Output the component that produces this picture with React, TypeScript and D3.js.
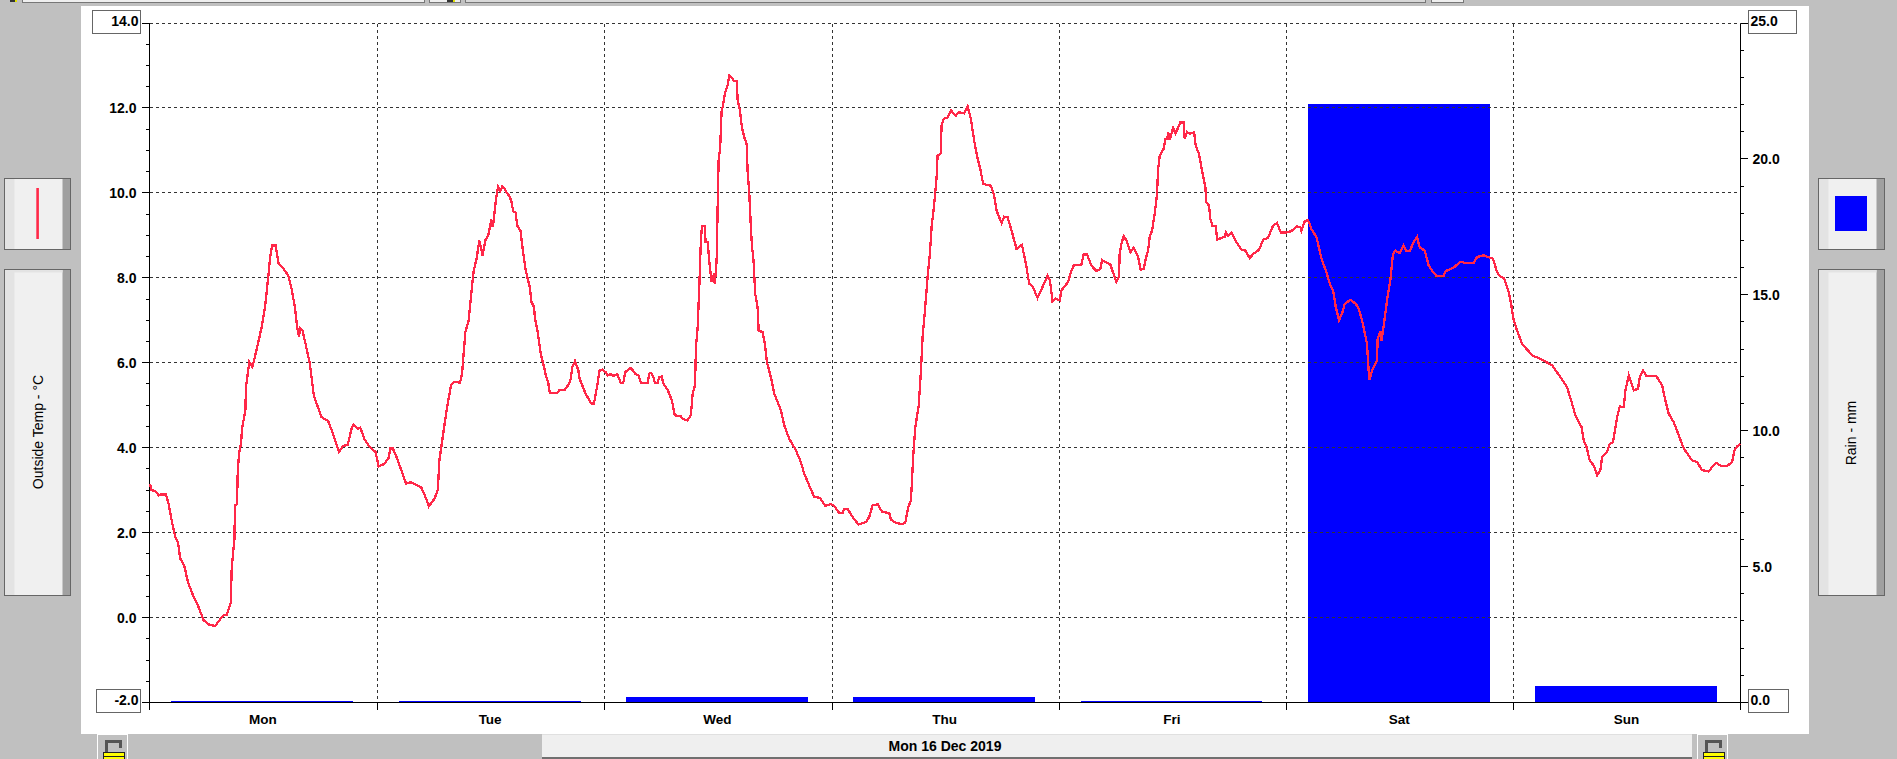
import React from "react";
import * as d3 from "d3";

const W = 1897, H = 759;

const days = ["Mon", "Tue", "Wed", "Thu", "Fri", "Sat", "Sun"];
const rainByDay = [0.05, 0.05, 0.2, 0.2, 0.05, 22.0, 0.6];
const dateLabel = "Mon 16 Dec 2019";
const leftTitle = "Outside Temp - °C";
const rightTitle = "Rain - mm";
const tempTicks = [14, 12, 10, 8, 6, 4, 2, 0, -2];
const rainTicks = [25, 20, 15, 10, 5, 0];

// [hours since Monday 00:00, outside temperature °C]
const monTemps = [[0,3.15],[.14,3],[.56,2.98],[.91,2.88],[1.16,2.9],[1.68,2.9],[1.96,2.68],[2.32,2.25],[2.67,1.9],[2.95,1.78],[3.19,1.39],[3.61,1.23],[4,.84],[4.6,.49],[5.12,.25],[5.65,-.06],[6.18,-.16],[6.88,-.2],[7.68,.04],[8.1,.07],[8.53,.35],[8.63,1.19],[8.91,1.82],[8.98,2.64],[9.19,2.68],[9.26,3.39],[9.4,3.86],[9.61,4.09],[9.72,4.45],[10.07,4.88],[10.14,5.43],[10.49,6.02],[10.81,5.9],[11.09,6.15],[11.44,6.49],[11.79,6.84],[12.14,7.31],[12.49,8.02],[12.67,8.45],[12.88,8.76],[13.26,8.76],[13.58,8.33],[14,8.25],[14.6,8.05],[14.95,7.74],[15.3,7.31],[15.54,6.84],[15.75,6.6],[15.82,6.82],[16.1,6.76],[16.42,6.45],[16.88,5.98],[17.3,5.23],[18.1,4.72],[18.81,4.63],[19.26,4.37],[19.96,3.9],[20.39,4.04],[20.88,4.07],[21.33,4.49],[21.51,4.55],[21.96,4.45],[22.21,4.47],[22.67,4.19],[23.19,4.02],[23.82,3.9]];
const tueTemps = [[24.14,3.56],[24.77,3.62],[25.19,3.76],[25.37,3.98],[25.65,3.98],[26,3.8],[27.05,3.15],[27.47,3.19],[28.63,3.07],[29.16,2.8],[29.44,2.62],[30.04,2.8],[30.39,3],[30.56,3.7],[30.91,4.25],[31.16,4.64],[31.44,5.04],[31.79,5.47],[32.14,5.55],[32.74,5.53],[32.95,5.74],[33.3,6.72],[33.65,7],[33.89,7.55],[34.18,8.17],[34.49,8.45],[34.77,8.88],[35.12,8.53],[35.4,8.88],[35.72,9],[36.03,9.37],[36.2,9.19],[36.38,9.54],[36.56,9.9],[36.77,10.15],[37,10.05],[37.19,10.15],[37.45,10.1],[37.66,10.01],[37.89,9.94],[38.14,9.82],[38.35,9.57],[38.6,9.54],[38.78,9.23],[39.13,9.1],[39.33,8.72],[39.68,8.17],[40.1,7.78],[40.28,7.43],[40.56,7.31],[40.63,7.08],[40.91,6.76],[41.26,6.21],[41.61,5.9],[41.79,5.7],[42.04,5.55],[42.21,5.29],[42.49,5.29],[43.02,5.29],[43.19,5.35],[43.82,5.37],[44.25,5.5],[44.42,5.62],[44.6,5.9],[44.88,6.04],[45.23,5.82],[45.37,5.62],[46,5.27],[46.6,5.04],[46.88,5.04],[47.23,5.47],[47.47,5.82],[47.75,5.84]];
const wedTemps = [[48.1,5.78],[48.35,5.7],[48.63,5.73],[48.98,5.69],[49.34,5.73],[49.72,5.52],[49.97,5.52],[50.18,5.78],[50.78,5.88],[51.24,5.74],[51.6,5.7],[51.84,5.52],[52.54,5.52],[52.72,5.74],[52.9,5.76],[53.17,5.66],[53.31,5.52],[53.6,5.52],[53.77,5.66],[54.03,5.68],[54.2,5.51],[54.66,5.36],[55.12,5.11],[55.36,4.8],[55.61,4.74],[56.07,4.74],[56.24,4.68],[56.77,4.64],[57.12,4.78],[57.3,5.27],[57.55,5.47],[57.65,6.37],[57.83,6.84],[58,7.78],[58.17,8.88],[58.28,9.22],[58.56,9.22],[58.67,8.84],[58.88,8.84],[59.12,8.25],[59.3,7.9],[59.47,8.02],[59.65,7.86],[59.83,8.41],[59.97,9.98],[60.04,10.76],[60.21,11.07],[60.35,11.9],[60.53,12.09],[60.74,12.37],[60.99,12.53],[61.16,12.76],[61.41,12.72],[61.69,12.63],[61.97,12.63],[62.04,12.21],[62.29,11.94],[62.5,11.55],[62.75,11.31],[63,11.15],[63.1,10.53],[63.28,9.98],[63.45,9.19],[63.56,8.76],[63.73,8.41],[63.91,7.62],[64.16,7.31],[64.27,6.76],[64.68,6.72],[64.93,6.45],[65.14,6.02],[65.56,5.66],[65.92,5.27],[66.62,4.88],[66.97,4.53],[67.5,4.21],[68.2,3.94],[68.73,3.66],[69.08,3.39],[69.61,3.11],[70.14,2.84],[70.74,2.82],[71.3,2.63],[71.9,2.67]];
const thuTemps = [[72.25,2.63],[72.78,2.46],[73.13,2.46],[73.3,2.56],[73.66,2.56],[74.19,2.37],[74.82,2.19],[75.6,2.25],[75.95,2.37],[76.3,2.64],[76.83,2.67],[77.3,2.49],[78.06,2.46],[78.24,2.31],[78.76,2.23],[79.4,2.2],[79.75,2.23],[80.07,2.6],[80.35,2.76],[80.6,3.82],[80.81,4.49],[81.16,4.96],[81.41,5.82],[81.58,6.6],[81.86,7.31],[82.11,8.02],[82.35,8.56],[82.53,9.19],[82.81,9.74],[83.06,10.37],[83.16,10.88],[83.51,10.93],[83.58,11.58],[83.8,11.74],[84.22,11.78],[84.57,11.94],[85.1,11.82],[85.38,11.9],[85.98,11.87],[86.33,12.04],[86.68,11.74],[87.03,11.23],[87.32,10.88],[87.67,10.56],[87.98,10.21],[88.79,10.17],[89.14,9.93],[89.39,9.58],[89.92,9.29],[90.2,9.44],[90.55,9.43],[90.98,9.11],[91.5,8.68],[92.07,8.78],[92.49,8.33],[92.84,7.86],[93.19,7.8],[93.72,7.53],[94.32,7.82],[94.78,8.05],[95.03,7.94],[95.3,7.45],[95.66,7.51]];
const friTemps = [[96.06,7.47],[96.23,7.7],[96.94,7.9],[97.29,8.17],[97.54,8.29],[98.35,8.31],[98.59,8.55],[98.94,8.55],[99.4,8.29],[99.93,8.16],[100.35,8.21],[100.53,8.42],[100.99,8.36],[101.41,8.31],[102.04,7.9],[102.32,8.02],[102.39,8.56],[102.57,8.8],[102.82,8.98],[103.1,8.88],[103.52,8.6],[103.87,8.71],[104.33,8.49],[104.61,8.19],[104.93,8.21],[105.14,8.45],[105.39,8.64],[105.56,8.96],[105.81,9.11],[106.09,9.51],[106.34,9.98],[106.44,10.53],[106.62,10.88],[107.04,11.04],[107.22,11.27],[107.43,11.27],[107.5,11.43],[107.68,11.25],[108.03,11.53],[108.27,11.4],[108.66,11.58],[108.8,11.66],[109.15,11.66],[109.26,11.27],[109.51,11.43],[109.79,11.39],[110.25,11.43],[110.42,11.11],[110.77,10.92],[111.02,10.6],[111.44,10.13],[111.55,9.78],[111.83,9.7],[111.97,9.39],[112.18,9.23],[112.54,9.22],[112.68,8.9],[113.49,8.97],[113.59,9.07],[113.84,8.98],[114.19,9.07],[114.72,8.84],[115.25,8.66],[115.67,8.64],[116.13,8.46],[116.48,8.56],[117.11,8.66],[117.54,8.9],[118.06,8.94],[118.59,9.23],[119.01,9.29],[119.4,9.07]];
const satTemps = [[120,9.07],[120.53,9.1],[121.06,9.21],[121.48,9.19],[121.58,9.11],[121.94,9.33],[122.29,9.36],[122.64,9.15],[123.17,8.96],[123.7,8.45],[124.23,8.13],[124.58,7.86],[124.93,7.7],[125.21,7.31],[125.56,7],[125.92,7.19],[126.16,7.39],[126.76,7.48],[127.32,7.39],[127.63,7.27],[127.98,7],[128.33,6.64],[128.5,6.45],[128.68,5.82],[128.79,5.6],[129.04,5.82],[129.56,6.05],[129.63,6.56],[129.92,6.75],[130.02,6.51],[130.2,6.76],[130.44,7.15],[130.69,7.58],[130.97,7.94],[131.25,8.56],[131.5,8.64],[131.96,8.58],[132.38,8.76],[132.66,8.64],[133.01,8.63],[133.44,8.84],[133.79,8.96],[134.07,8.72],[134.6,8.64],[135.02,8.29],[135.37,8.17],[135.83,8.05],[136.6,8.05],[136.82,8.16],[137.66,8.24],[138.37,8.38],[138.89,8.35],[139.77,8.35],[140.13,8.49],[140.83,8.53],[141.54,8.47],[141.82,8.45],[142.24,8.13],[142.59,8.03],[143.01,7.98],[143.47,7.66],[143.72,7.39]];
const sunTemps = [[144,7],[144.35,6.76],[144.88,6.45],[145.41,6.31],[146.01,6.17],[147,6.07],[148.05,5.94],[148.93,5.66],[149.63,5.43],[150.16,5.04],[150.51,4.76],[151.15,4.49],[151.39,4.17],[151.68,4.02],[152.03,3.7],[152.45,3.58],[152.8,3.35],[153.15,3.47],[153.33,3.78],[153.86,3.9],[154.14,4.09],[154.49,4.13],[154.92,4.72],[155.2,4.97],[155.62,4.96],[155.8,5.35],[156.15,5.7],[156.68,5.35],[157.13,5.39],[157.31,5.66],[157.66,5.82],[158.01,5.69],[159.07,5.68],[159.67,5.47],[160.02,5.11],[160.37,4.8],[160.9,4.6],[161.43,4.29],[161.96,3.98],[162.84,3.7],[163.37,3.66],[163.89,3.47],[164.6,3.44],[165.06,3.58],[165.41,3.64],[165.9,3.57],[166.54,3.57],[167.06,3.66],[167.31,3.94],[167.59,4.03],[167.94,4.09]];

const plotL = 149.5, plotR = 1740.5, plotT = 23.02, plotB = 702.5;
const GREY = "#c0c0c0", RED = "#ff2848", BLUE = "#0000ff", GRID = "#333333";
const BOLD = { fontFamily: "'Liberation Sans', Arial, sans-serif", fontWeight: 700, fill: "#000" } as const;
const REGULAR = { fontFamily: "'Liberation Sans', Arial, sans-serif", fill: "#000" } as const;

const x = d3.scaleLinear().domain([0, 168]).range([150, 1741]);
const yT = d3.scaleLinear().domain([-2, 14]).range([plotB, plotT]);
const yR = d3.scaleLinear().domain([0, 25]).range([plotB, plotT]);
const band = d3.scaleBand<string>().domain(days).range([148.7, 1739.7]).paddingInner(0.2).paddingOuter(0.1);
const temps = [...monTemps, ...tueTemps, ...wedTemps, ...thuTemps, ...friTemps, ...satTemps, ...sunTemps];
const linePath = d3.line<number[]>().x(d => x(d[0])).y(d => yT(d[1]))(temps) as string;
const snap = (v: number) => Math.floor(v) + 0.5;

function SideButton({ x0, y0, h, left, right, top }: { x0: number; y0: number; h: number; left: number; right: number; top?: boolean }) {
  const w = 66;
  return (
    <g>
      <rect x={x0 + 0.5} y={y0 + 0.5} width={w} height={h} fill="#f0f0f0" />
      <rect x={x0 + 0.5} y={y0 + 0.5} width={left} height={h} fill="#e3e3e3" />
      <rect x={x0 + 0.5 + w - right} y={y0 + 0.5} width={right} height={h} fill="#a0a0a0" />
      {top && <rect x={x0 + 0.5} y={y0 + 0.5} width={w - right} height={3} fill="#e3e3e3" />}
      <rect x={x0 + 0.5} y={y0 + 0.5} width={w} height={h} fill="none" stroke="#666" />
    </g>
  );
}

function Lock({ x0 }: { x0: number }) {
  return (
    <g>
      <rect x={x0 + 0.5} y={734.5} width={30} height={30} fill={GREY} stroke="#fff" />
      <path d={`M${x0 + 9.5} 752V741.5H${x0 + 23.5}V748`} fill="none" stroke="#555" strokeWidth={3} />
      <rect x={x0 + 6.5} y={752.5} width={21} height={8} fill="#ffff00" stroke="#222" />
      <line x1={x0 + 6} x2={x0 + 28} y1={756.5} y2={756.5} stroke="#222" />
    </g>
  );
}

function ValueBox({ x0, x1, y0, y1 }: { x0: number; x1: number; y0: number; y1: number }) {
  return <rect x={x0 + 0.5} y={y0 + 0.5} width={x1 - x0} height={y1 - y0} fill="#fff" stroke="#666" />;
}

export default function App() {
  const tempMinor = d3.range(-2, 14.01, 0.5);
  const rainMinor = d3.range(0, 25.01, 1);
  const dayEdges = d3.range(0, 169, 24);
  const dayX = (h: number) => snap(x(h) + 0.2);
  return (
    <svg width={W} height={H} viewBox={`0 0 ${W} ${H}`} style={{ position: "fixed", left: 0, top: 0, display: "block" }}>
      <rect width={W} height={H} fill={GREY} />

      {/* top toolbar remnants */}
      <g shapeRendering="crispEdges">
        <rect x={10} y={0} width={5} height={2} fill="#333" />
        <rect x={15} y={0} width={2} height={2} fill="#e0e000" />
        <rect x={22} y={-1} width={402} height={3} fill="#efefef" stroke="#777" />
        <rect x={429} y={-1} width={31} height={3} fill="#efefef" stroke="#777" />
        <rect x={447} y={0} width={6} height={2} fill="#333" />
        <rect x={453} y={0} width={2} height={2} fill="#e0e000" />
        <rect x={465} y={-1} width={960} height={3} fill="#d8d8d8" stroke="#777" />
        <rect x={1431} y={-1} width={32} height={3} fill="#efefef" stroke="#777" />
      </g>

      <rect x={81} y={6} width={1728} height={728} fill="#fff" />

      {/* side buttons */}
      <SideButton x0={4} y0={178} h={71} left={10} right={8} />
      <SideButton x0={4} y0={269} h={326} left={10} right={8} top />
      <SideButton x0={1818} y0={178} h={71} left={10} right={8} />
      <SideButton x0={1818} y0={269} h={326} left={10} right={8} top />
      <rect x={36.3} y={188} width={2.6} height={51} fill={RED} />
      <rect x={1835} y={196} width={32} height={35} fill={BLUE} />
      <text transform="translate(42.5,432) rotate(-90)" textAnchor="middle" fontSize={14} {...REGULAR}>{leftTitle}</text>
      <text transform="translate(1855.5,433) rotate(-90)" textAnchor="middle" fontSize={14} {...REGULAR}>{rightTitle}</text>

      {/* rain bars */}
      <g shapeRendering="crispEdges">
        {days.map((d, i) => (
          <rect key={d} x={band(d)} y={yR(rainByDay[i]) - 0.5} width={band.bandwidth()} height={plotB - yR(rainByDay[i])} fill={BLUE} />
        ))}
      </g>

      {/* grid */}
      <g stroke={GRID} strokeWidth={1} strokeDasharray="3 3" shapeRendering="crispEdges">
        {tempTicks.slice(0, -1).map(t => (
          <line key={t} x1={plotL} x2={plotR} y1={snap(yT(t))} y2={snap(yT(t))} />
        ))}
        {dayEdges.slice(1, -1).map(h => (
          <line key={h} x1={dayX(h)} x2={dayX(h)} y1={snap(plotT)} y2={plotB} />
        ))}
      </g>

      {/* axes */}
      <g stroke="#000" strokeWidth={1} shapeRendering="crispEdges">
        <line x1={plotL} x2={plotL} y1={snap(plotT)} y2={710} />
        <line x1={plotR} x2={plotR} y1={snap(plotT)} y2={710} />
        <line x1={142} x2={1748} y1={plotB} y2={plotB} />
        {dayEdges.slice(1, -1).map(h => (
          <line key={h} x1={dayX(h)} x2={dayX(h)} y1={plotB} y2={710} />
        ))}
        {tempMinor.map(t => (
          <line key={t} x1={t % 2 === 0 ? 142 : 146} x2={plotL} y1={snap(yT(t))} y2={snap(yT(t))} />
        ))}
        {rainMinor.map(r => (
          <line key={r} x1={plotR} x2={r % 5 === 0 ? 1748 : 1744} y1={snap(yR(r))} y2={snap(yR(r))} />
        ))}
      </g>

      {/* temperature */}
      <path d={linePath} fill="none" stroke={RED} strokeWidth={2.3} strokeLinejoin="miter" shapeRendering="crispEdges" />

      {/* value boxes */}
      <g shapeRendering="crispEdges">
        <ValueBox x0={92} x1={140} y0={10} y1={33} />
        <ValueBox x0={96} x1={140} y0={689} y1={712} />
        <ValueBox x0={1748} x1={1796} y0={10} y1={33} />
        <ValueBox x0={1748} x1={1788} y0={689} y1={712} />
      </g>

      {/* tick labels */}
      {tempTicks.map(t => {
        const boxed = t === 14 || t === -2;
        const yPos = t === 14 ? 20.5 : t === -2 ? 699.5 : snap(yT(t));
        return (
          <text key={t} x={boxed ? 138.5 : 136.5} y={yPos} dy="0.36em" textAnchor="end" fontSize={14} {...BOLD}>{t.toFixed(1)}</text>
        );
      })}
      {rainTicks.map(r => {
        const boxed = r === 25 || r === 0;
        const yPos = r === 25 ? 20.5 : r === 0 ? 699.5 : snap(yR(r));
        return (
          <text key={r} x={boxed ? 1750.5 : 1752.5} y={yPos} dy="0.36em" fontSize={14} {...BOLD}>{r.toFixed(1)}</text>
        );
      })}

      {/* day labels */}
      {days.map(d => (
        <text key={d} x={(band(d) as number) + band.bandwidth() / 2 + 0.5} y={719.5} dy="0.36em" textAnchor="middle" fontSize={13.5} {...BOLD}>{d}</text>
      ))}

      {/* date bar */}
      <g shapeRendering="crispEdges">
        <rect x={542} y={734} width={1150} height={25} fill="#efefef" />
        <rect x={542} y={734} width={1150} height={1} fill="#e0e0e0" />
        <rect x={542} y={757} width={1150} height={2} fill="#707070" />
      </g>
      <text x={945} y={746} dy="0.36em" textAnchor="middle" fontSize={14} {...BOLD}>{dateLabel}</text>

      <Lock x0={97} />
      <Lock x0={1697} />
    </svg>
  );
}
